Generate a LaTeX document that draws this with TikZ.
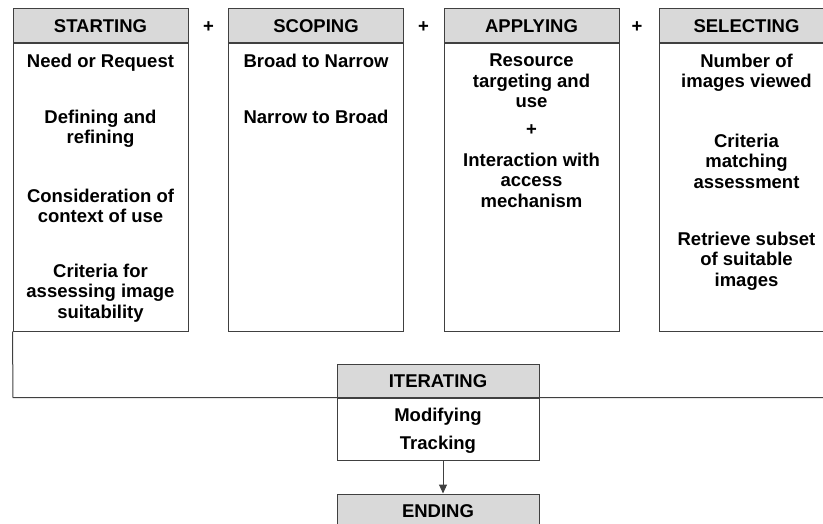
\documentclass[tikz,border=0pt]{standalone}
\usepackage{fontspec}
\setmainfont{Liberation Sans}
\usetikzlibrary{arrows.meta}
\definecolor{headgray}{HTML}{D9D9D9}
\definecolor{boxline}{HTML}{404040}
\begin{document}
\begin{tikzpicture}[x=1pt,y=-1pt,
  every node/.style={font=\bfseries\fontsize{18.5pt}{20.5pt}\selectfont, text=black},
  box/.style={draw=boxline, line width=1pt, minimum width=175pt, inner sep=0pt},
  head/.style={box, fill=headgray, minimum height=34pt},
  body/.style={box, minimum height=287pt, anchor=north},
  txt/.style={anchor=north, align=center, inner sep=0pt},
  plus/.style={inner sep=0pt},
  link/.style={draw=boxline, line width=1pt}]
\useasboundingbox (0,0) rectangle (823,524);
\clip (0,0) rectangle (823,524);

% four phase columns
\node[head] (starth) at (100.5,26) {STARTING};
\node[body] (startb) at (starth.south) {};
\node[head] (scopeh) at (316,26) {SCOPING};
\node[body] (scopeb) at (scopeh.south) {};
\node[head] (applyh) at (531.5,26) {APPLYING};
\node[body] (applyb) at (applyh.south) {};
\node[head] (selecth) at (746.5,26) {SELECTING};
\node[body] (selectb) at (selecth.south) {};

% plus signs between the columns
\node[plus] (p1) at (208.5,27) {+};
\node[plus] (p2) at (423.5,27) {+};
\node[plus] (p3) at (637,27) {+};

% column contents
\node[txt] (s1) at (100.5,53.8) {Need or Request};
\node[txt] (s2) at (100.5,109.8) {Defining and\\refining};
\node[txt] (s3) at (100.5,188.8) {Consideration of\\context of use};
\node[txt] (s4) at (100.5,263.8) {Criteria for\\assessing image\\suitability};

\node[txt] (c1) at (316,53.8) {Broad to Narrow};
\node[txt] (c2) at (316,109.8) {Narrow to Broad};

\node[txt] (a1) at (531.5,53.8) {Resource\\targeting and\\use};
\node[plus] (a2) at (531.5,130) {+};
\node[txt] (a3) at (531.5,152.8) {Interaction with\\access\\mechanism};

\node[txt] (e1) at (746.5,53.8) {Number of\\images viewed};
\node[txt] (e2) at (746.5,133.8) {Criteria\\matching\\assessment};
\node[txt] (e3) at (746.5,231.8) {Retrieve subset\\of suitable\\images};

% feedback frame running under the columns
\coordinate (fl) at (13,397.5);
\coordinate (fr) at (823,397.5);
\draw[link] (startb.south west) -- (fl) -- (fr);

% iterating and ending
\node[head, minimum width=202pt, minimum height=33.5pt] (iterh) at (438,381) {ITERATING};
\node[box, minimum width=202pt, minimum height=61.5pt, anchor=north] (iterb) at (iterh.south) {};
\node[txt] (it1) at (438,408) {Modifying};
\node[txt] (it2) at (438,436) {Tracking};

\node[head, minimum width=202pt] (endh) at (438,511) {ENDING};

\draw[link, -{Triangle[length=9pt,width=8pt]}] ([xshift=5pt]iterb.south) -- ([xshift=5pt]endh.north);
\end{tikzpicture}
\end{document}
